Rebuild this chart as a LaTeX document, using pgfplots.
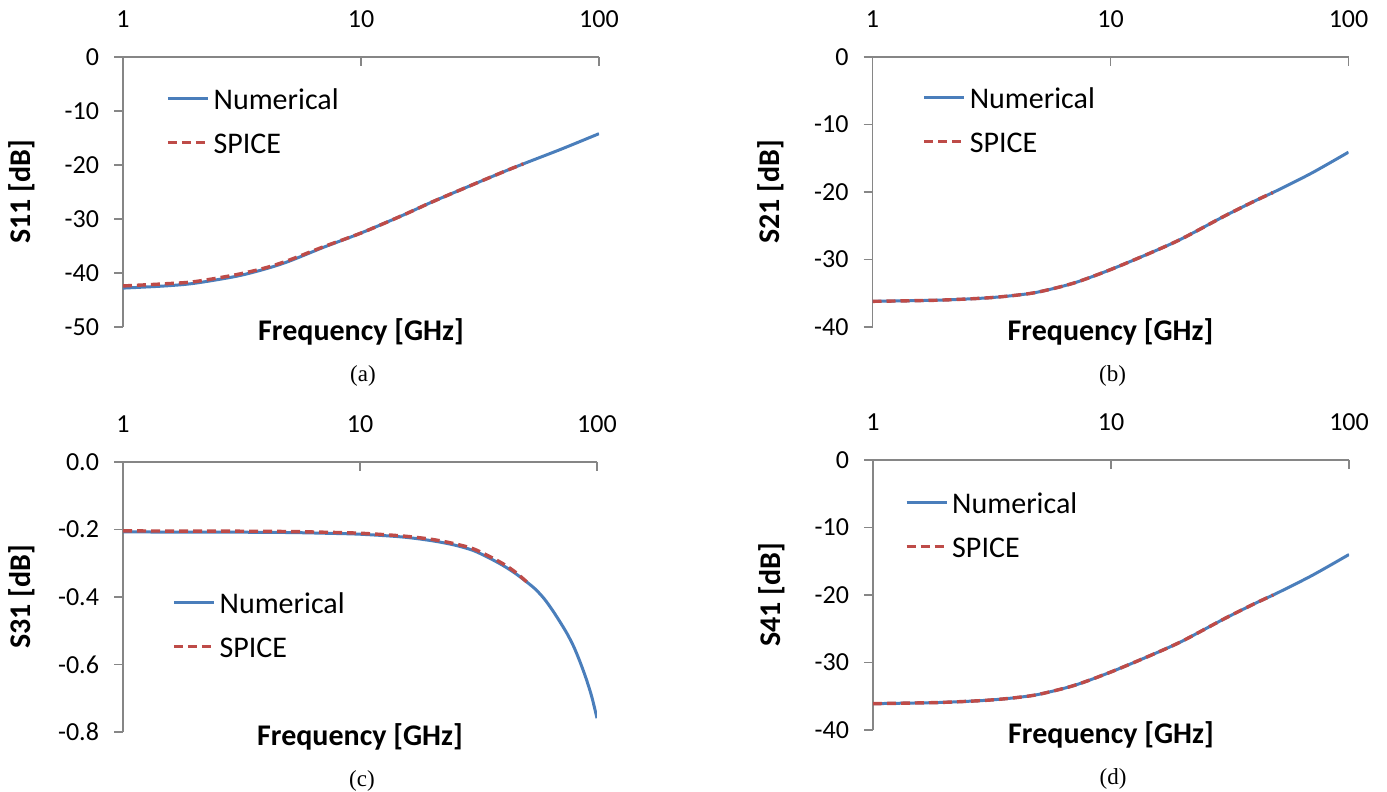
\documentclass[border=0pt]{standalone}
\usepackage{fontspec}
\setmainfont{Carlito}
\newfontfamily\capfont{Liberation Serif}
\usepackage{pgfplots}
\pgfplotsset{compat=1.18}

\definecolor{numblue}{HTML}{4A7EBB}
\definecolor{spicered}{HTML}{BE4B48}
\definecolor{axgray}{HTML}{868686}

\tikzset{numerical/.style={numblue,line width=1.5pt,smooth},
  spice/.style={spicered,line width=1.7pt,dash pattern=on 4.5pt off 2.5pt,smooth}}
\pgfplotsset{legend image code/.code={\draw[#1] (0pt,0pt) -- (20pt,0pt);}}
\pgfplotsset{sparam/.style={
  scale only axis,width=238pt,height=135pt,
  xmin=1,xmax=100,
  xtick={1,10,100},xticklabels={1,10,100},xminorticks=false,
  axis x line*=top,axis y line*=left,
  axis line style={axgray,line width=0.9pt},
  tick style={axgray,line width=0.9pt},
  major tick length=4.5pt,
  xtick align=inside,ytick align=outside,
  tick label style={font=\fontsize{13}{15}\selectfont},
  xticklabel style={anchor=base,yshift=14.5pt},
  yticklabel style={anchor=east,xshift=-4pt},
  label style={font=\bfseries\fontsize{15}{18}\selectfont},
  xlabel={Frequency [GHz]},
  xlabel style={at={(axis description cs:0.5,-0.02)},anchor=center},
  ylabel style={at={(axis description cs:-0.213,0.5)},anchor=center},
  legend cell align=left,
  legend style={draw=none,fill=none,inner sep=0pt,row sep=7pt,
    font=\fontsize{15}{18}\selectfont,
    nodes={inner sep=2pt,text height=11pt,text depth=0pt}},
}}

\begin{document}
\begin{tikzpicture}
\path[use as bounding box] (0,0) rectangle (693.5pt,396pt);

% (a) S11
\begin{semilogxaxis}[sparam,name=a,at={(61.5pt,232.5pt)},anchor=south west,
  ymin=-50,ymax=0,ytick={-50,-40,-30,-20,-10,0},yticklabels={-50,-40,-30,-20,-10,0},
  ylabel={S11 [dB]},
  legend style={at={(axis description cs:0.09,0.765)},anchor=west}]
\addplot[numerical] coordinates {(1,-42.8) (1.5,-42.4) (2,-41.9) (3,-40.6) (4,-39.2) (5,-37.8) (7,-35.2) (10,-32.6) (15,-29.3) (20,-26.8) (30,-23.5) (40,-21.2) (50,-19.5) (70,-17.0) (100,-14.2)};
\addplot[spice] coordinates {(1,-42.4) (1.5,-42.0) (2,-41.6) (3,-40.3) (4,-39.0) (5,-37.6) (7,-35.1) (10,-32.6) (15,-29.3) (20,-26.8) (30,-23.5) (40,-21.2) (48,-19.8)};
\legend{Numerical,SPICE}
\end{semilogxaxis}

% (b) S21
\begin{semilogxaxis}[sparam,name=b,at={(436.25pt,232.5pt)},anchor=south west,
  ymin=-40,ymax=0,ytick={-40,-30,-20,-10,0},yticklabels={-40,-30,-20,-10,0},
  ylabel={S21 [dB]},
  legend style={at={(axis description cs:0.104,0.768)},anchor=west}]
\addplot[numerical] coordinates {(1,-36.2) (1.5,-36.1) (2,-36.0) (3,-35.7) (4,-35.3) (5,-34.8) (7,-33.5) (10,-31.5) (15,-28.9) (20,-26.9) (30,-23.6) (40,-21.4) (50,-19.8) (70,-17.2) (100,-14.1)};
\addplot[spice] coordinates {(1,-36.2) (1.5,-36.1) (2,-36.0) (3,-35.7) (4,-35.3) (5,-34.8) (7,-33.5) (10,-31.5) (15,-28.9) (20,-26.9) (30,-23.6) (40,-21.4) (48,-20.1)};
\legend{Numerical,SPICE}
\end{semilogxaxis}

% (c) S31
\begin{semilogxaxis}[sparam,name=c,at={(61.5pt,30pt)},anchor=south west,width=237pt,
  ymin=-0.8,ymax=0,ytick={-0.8,-0.6,-0.4,-0.2,0},yticklabels={-0.8,-0.6,-0.4,-0.2,0.0},
  ylabel={S31 [dB]},
  legend style={at={(axis description cs:0.103,0.398)},anchor=west}]
\addplot[numerical] coordinates {(1,-0.207) (2,-0.208) (3,-0.208) (5,-0.209) (7,-0.211) (10,-0.214) (15,-0.222) (20,-0.233) (25,-0.246) (30,-0.262) (35,-0.284) (40,-0.306) (45,-0.329) (50,-0.353) (55,-0.377) (60,-0.406) (65,-0.440) (70,-0.475) (75,-0.510) (80,-0.549) (85,-0.594) (90,-0.642) (95,-0.695) (100,-0.759)};
\addplot[spice] coordinates {(1,-0.204) (2,-0.205) (3,-0.205) (5,-0.206) (7,-0.208) (10,-0.211) (15,-0.219) (20,-0.229) (25,-0.242) (30,-0.257) (35,-0.279) (40,-0.301) (45,-0.325) (50.5,-0.355)};
\legend{Numerical,SPICE}
\end{semilogxaxis}

% (d) S41
\begin{semilogxaxis}[sparam,name=d,at={(436.5pt,31pt)},anchor=south west,
  ymin=-40,ymax=0,ytick={-40,-30,-20,-10,0},yticklabels={-40,-30,-20,-10,0},
  ylabel={S41 [dB]},
  legend style={at={(axis description cs:0.066,0.761)},anchor=west}]
\addplot[numerical] coordinates {(1,-36.1) (1.5,-36.0) (2,-35.9) (3,-35.6) (4,-35.2) (5,-34.7) (7,-33.4) (10,-31.4) (15,-28.8) (20,-26.8) (30,-23.5) (40,-21.3) (50,-19.7) (70,-17.1) (100,-14.0)};
\addplot[spice] coordinates {(1,-36.1) (1.5,-36.0) (2,-35.9) (3,-35.6) (4,-35.2) (5,-34.7) (7,-33.4) (10,-31.4) (15,-28.8) (20,-26.8) (30,-23.5) (40,-21.3) (48,-20.0)};
\legend{Numerical,SPICE}
\end{semilogxaxis}

\foreach \p/\l in {a/(a),b/(b),c/(c),d/(d)}
  \node[font=\capfont\fontsize{11.5}{13}\selectfont,yshift=-24.5pt,xshift=1pt] at (\p.south) {\l};
\end{tikzpicture}
\end{document}
